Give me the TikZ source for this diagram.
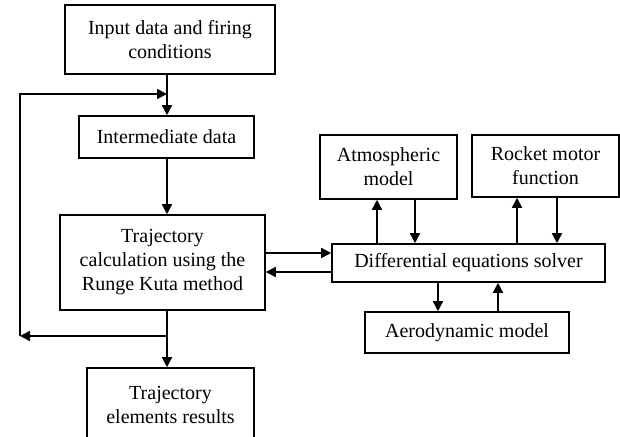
\documentclass[tikz,border=0pt]{standalone}
\usepackage{fontspec}
\setmainfont{Liberation Serif}
\usetikzlibrary{arrows.meta}
\tikzset{
  box/.style={draw, line width=1.6pt, inner sep=0pt, align=center,
    font=\fontsize{20}{24}\selectfont},
  arr/.style={line width=1.6pt, -{Triangle[length=10pt,width=10pt]}},
  ln/.style={line width=1.6pt}
}
\begin{document}
\begin{tikzpicture}[x=1pt,y=-1pt]
\useasboundingbox (0,0) rectangle (620,436);
\node[box, minimum width=210pt, minimum height=69pt] (in1) at (170,39.5) {Input data and firing\\conditions};
\node[box, minimum width=175pt, minimum height=42pt] (mid) at (166.5,137) {Intermediate data};
\node[box, minimum width=205pt, minimum height=95pt] (traj) at (162.5,262.5) {Trajectory\\calculation using the\\Runge Kuta method};
\node[box, minimum width=167pt, minimum height=74pt] (res) at (170.5,405) {Trajectory\\elements results};
\node[box, minimum width=137pt, minimum height=64pt] (atm) at (388.5,167) {Atmospheric\\model};
\node[box, minimum width=147pt, minimum height=62pt] (rock) at (545.5,166) {Rocket motor\\function};
\node[box, minimum width=273pt, minimum height=38pt] (solv) at (468.5,263) {Differential equations solver};
\node[box, minimum width=204pt, minimum height=41pt] (aero) at (467,332.5) {Aerodynamic model};
% main vertical flow
\coordinate (ax) at (167,0);
\coordinate (join) at (167,94);
\coordinate (branch) at (167,336);
\coordinate (cbl) at (20,336);
\coordinate (ctl) at (20,94);
\draw[arr] (in1.south -| ax) -- (mid.north -| ax);
\draw[arr] (mid.south -| ax) -- (traj.north -| ax);
\draw[arr] (traj.south -| ax) -- (res.north -| ax);
% feedback loop
\draw[arr] (branch) -- (cbl);
\draw[arr] (cbl) -- (ctl) -- (join);
% trajectory <-> solver
\coordinate (ya) at (0,253);
\coordinate (yb) at (0,272);
\draw[arr] (traj.east |- ya) -- (solv.west |- ya);
\draw[arr] (solv.west |- yb) -- (traj.east |- yb);
% atmosphere
\coordinate (x1) at (377,0);
\coordinate (x2) at (415,0);
\draw[arr] (solv.north -| x1) -- (atm.south -| x1);
\draw[arr] (atm.south -| x2) -- (solv.north -| x2);
% rocket motor
\coordinate (x3) at (517,0);
\coordinate (x4) at (557,0);
\draw[arr] (solv.north -| x3) -- (rock.south -| x3);
\draw[arr] (rock.south -| x4) -- (solv.north -| x4);
% aerodynamic
\coordinate (x5) at (438,0);
\coordinate (x6) at (498,0);
\draw[arr] (solv.south -| x5) -- (aero.north -| x5);
\draw[arr] (aero.north -| x6) -- (solv.south -| x6);
\end{tikzpicture}
\end{document}
